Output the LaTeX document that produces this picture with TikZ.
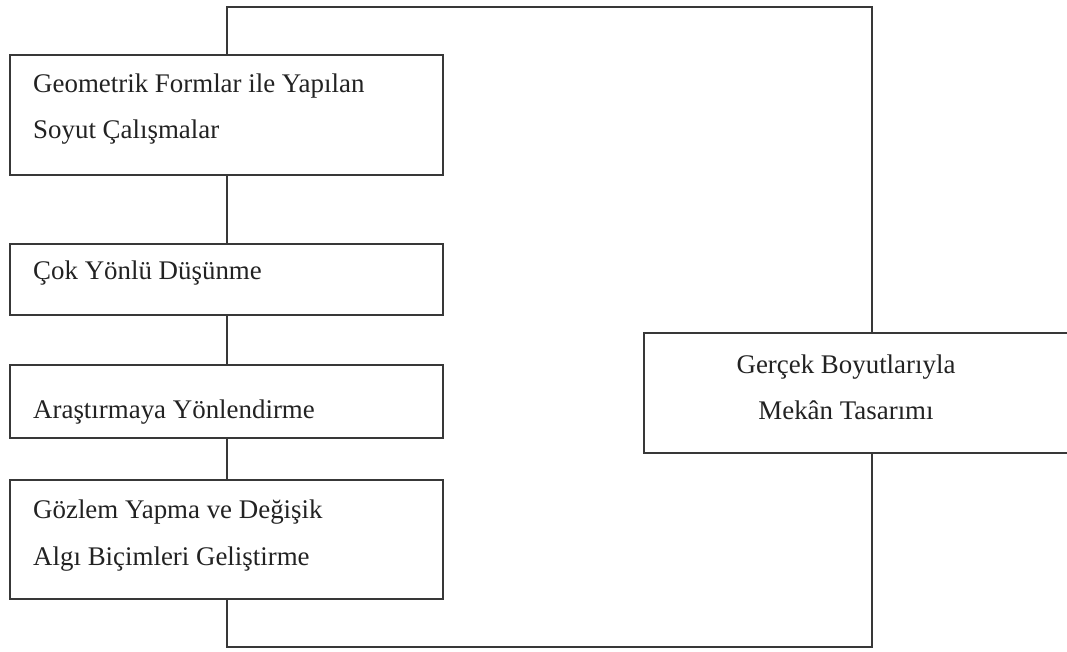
\documentclass[tikz,border=0pt]{standalone}
\usepackage{fontspec}
\setmainfont{Liberation Serif}
\definecolor{linec}{HTML}{383838}
\definecolor{txtc}{HTML}{222222}
\begin{document}
\begin{tikzpicture}[x=1pt,y=-1pt,
  boxs/.style={draw=linec,line width=2.4pt,rectangle,inner sep=0pt,anchor=north west},
  lbl/.style={inner sep=0pt,text=txtc,font=\fontsize{26.9}{30}\selectfont},
  conn/.style={draw=linec,line width=2.4pt}]
\useasboundingbox (0,0) rectangle (1067,651);
\clip (0,0) rectangle (1067,651);
% boxes
\node[boxs,minimum width=433pt,minimum height=120pt] (b1) at (9,54) {};
\node[boxs,minimum width=433pt,minimum height=71pt] (b2) at (9,243) {};
\node[boxs,minimum width=433pt,minimum height=73pt] (b3) at (9,364) {};
\node[boxs,minimum width=433pt,minimum height=119pt] (b4) at (9,479) {};
\node[boxs,minimum width=432pt,minimum height=120pt] (r) at (643,332) {};
% texts
\node[lbl,anchor=base west] (t1a) at (33,92) {Geometrik Formlar ile Yapılan};
\node[lbl,anchor=base west] (t1b) at (33,138) {Soyut Çalışmalar};
\node[lbl,anchor=base west] (t2) at (33,279) {Çok Yönlü Düşünme};
\node[lbl,anchor=base west] (t3) at (33,418) {Araştırmaya Yönlendirme};
\node[lbl,anchor=base west] (t4a) at (33,518) {Gözlem Yapma ve Değişik};
\node[lbl,anchor=base west] (t4b) at (33,565) {Algı Biçimleri Geliştirme};
\node[lbl,anchor=base] (tra) at (846,373) {Gerçek Boyutlarıyla};
\node[lbl,anchor=base] (trb) at (846,419) {Mekân Tasarımı};
% connectors
\coordinate (tr) at (872,7);
\coordinate (br) at (872,647);
\draw[conn] (b1.north) |- (tr) -- (r.north -| tr);
\draw[conn] (b1.south) -- (b2.north);
\draw[conn] (b2.south) -- (b3.north);
\draw[conn] (b3.south) -- (b4.north);
\draw[conn] (b4.south) |- (br) -- (r.south -| br);
\end{tikzpicture}
\end{document}
